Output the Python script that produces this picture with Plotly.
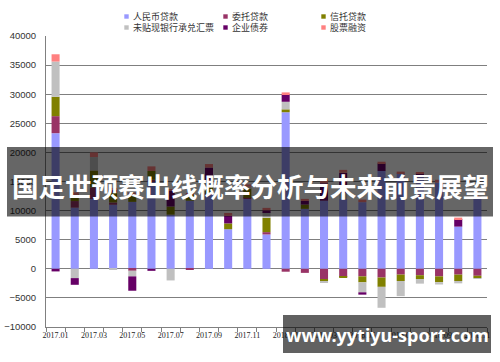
import plotly.graph_objects as go

# ---- data (100 million yuan) ----
months = ['2017.01', '2017.02', '2017.03', '2017.04', '2017.05', '2017.06',
          '2017.07', '2017.08', '2017.09', '2017.10', '2017.11', '2017.12',
          '2018.01', '2018.02', '2018.03', '2018.04', '2018.05', '2018.06',
          '2018.07', '2018.08', '2018.09', '2018.10', '2018.11']

rmb_loans = [23300, 10500, 12000, 11000, 11500, 15000, 9300, 11700, 12700, 6800, 12000, 5900,
             26900, 10300, 11700, 12000, 11450, 16800, 16400, 15900, 14800, 7250, 12300]
entrusted_loans = [2930, 1140, 2000, 400, -340, 300, 0, -150, 200, 0, 200, 400,
                   -500, -700, -1750, -1400, -1300, -1500, -1000, -1100, -1300, -1000, -1200]
trust_loans = [3330, 1200, 2900, 1700, 1100, 1500, 1400, 1100, 1200, 1000, 1600, 2470,
               500, 740, -450, -100, -1030, -1600, -1100, -650, -1000, -1100, -400]
undiscounted_ba = [6050, -1600, 2300, -150, -960, 0, -2000, 0, 800, 0, 300, 950,
                   1300, 0, -150, 1000, -1710, -3600, -2600, -800, -400, -400, -100]
corporate_bonds = [-450, -1150, 0, 600, -2470, -350, 2700, 0, 2500, 1300, 0, 340,
                   1320, 630, 3000, 3500, -400, 1300, 0, 500, 0, 1300, 0]
equity_financing = [1250, 300, 800, 200, 500, 800, 300, 200, 600, 500, 400, 410,
                    290, 340, 600, 500, 450, 300, 300, 200, 500, 250, 200]

series_names = ['人民币贷款', '委托贷款', '信托贷款', '未贴现银行承兑汇票', '企业债券', '股票融资']
series_values = [rmb_loans, entrusted_loans, trust_loans, undiscounted_ba, corporate_bonds, equity_financing]
colors = ['#9999FF', '#993366', '#808000', '#C0C0C0', '#660066', '#FF8080']

tick_labels = [m if i % 2 == 0 else '' for i, m in enumerate(months)]

banner_text = '国足世预赛出线概率分析与未来前景展望'
watermark_text = 'www.yytiyu-sport.com'

# ---- figure ----
W, H = 500, 362
L, R, T, B = 46, 13, 36, 35
PW, PH = W - L - R, H - T - B


def px(x):
    return (x - L) / PW


def py(y):
    return (H - B - y) / PH


fig = go.Figure()
for name, vals, col in zip(series_names, series_values, colors):
    fig.add_trace(go.Bar(x=months, y=vals, name=name, marker=dict(color=col, line=dict(width=0)),
                         showlegend=False))

shapes = []
annotations = []

# legend (manual, Excel-like)
legend_pos = [(126.5, 16.5), (225.5, 16.5), (323.5, 16.5),
              (126.5, 27.5), (225.5, 27.5), (323.5, 27.5)]
for (lx, ly), idx in zip(legend_pos, range(6)):
    shapes.append(dict(type='rect', xref='paper', yref='paper',
                       x0=px(lx - 2.2), x1=px(lx + 2.2), y0=py(ly + 2.2), y1=py(ly - 2.2),
                       fillcolor=colors[idx], line=dict(width=0)))
    annotations.append(dict(text=series_names[idx], xref='paper', yref='paper',
                            x=px(lx + 4), y=py(ly), xanchor='left', yanchor='middle',
                            showarrow=False,
                            font=dict(family='Noto Sans CJK SC', size=9, color='#333')))

# overlay banner
shapes.append(dict(type='rect', xref='paper', yref='paper', layer='above',
                   x0=px(7), x1=px(493), y0=py(216.5), y1=py(147),
                   fillcolor='rgba(0,0,0,0.6)', line=dict(width=0)))
annotations.append(dict(text='<b>' + banner_text + '</b>', xref='paper', yref='paper',
                        x=px(250), y=py(185), xanchor='center', yanchor='middle', showarrow=False,
                        font=dict(family='Noto Sans CJK SC', size=26.5, color='white')))

# watermark
shapes.append(dict(type='rect', xref='paper', yref='paper', layer='above',
                   x0=px(283), x1=px(491), y0=py(353), y1=py(315),
                   fillcolor='rgba(0,0,0,0.62)', line=dict(width=0)))
annotations.append(dict(text='<b>' + watermark_text + '</b>', xref='paper', yref='paper',
                        x=px(387), y=py(335), xanchor='center', yanchor='middle', showarrow=False,
                        font=dict(family='Noto Sans', size=18, color='white')))

fig.update_layout(
    width=W, height=H,
    margin=dict(l=L, r=R, t=T, b=B, autoexpand=False),
    barmode='relative', bargap=0.58,
    plot_bgcolor='white', paper_bgcolor='white',
    showlegend=False,
    shapes=shapes, annotations=annotations,
    xaxis=dict(type='category', tickmode='array', tickvals=months, ticktext=tick_labels,
               tickson='boundaries', ticks='outside', ticklen=4, tickcolor='#808080',
               showline=True, linecolor='#808080', linewidth=1, showgrid=False, tickangle=0,
               automargin=False,
               tickfont=dict(family='Liberation Serif', size=8, color='#222')),
    yaxis=dict(range=[-10000, 40000], tick0=0, dtick=5000, tickformat='d',
               showgrid=True, gridcolor='#7f7f7f', gridwidth=1, zeroline=False,
               showline=True, linecolor='#808080', linewidth=1, ticks='',
               ticklabelstandoff=7, automargin=False,
               tickfont=dict(family='Liberation Sans', size=9.5, color='#333')),
)

fig.write_html('out.html', config={'displayModeBar': False},
               post_script="document.body.style.margin='0';document.body.style.padding='0';")
